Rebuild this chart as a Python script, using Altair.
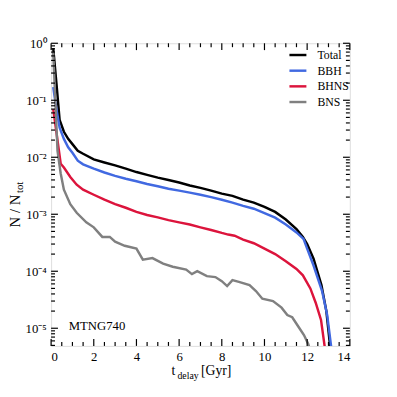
import altair as alt
import pandas as pd
import numpy as np

# ---------------- data ----------------
total_x = [0.1, 0.25, 0.4, 0.6, 0.8, 1.0, 1.25, 1.5, 2.0, 2.5, 3.0, 3.5, 4.0, 4.5, 5.0, 5.5,
           6.0, 6.5, 7.0, 7.5, 8.0, 8.5, 9.0, 9.5, 10.0, 10.5, 11.0, 11.5, 11.8, 12.0,
           12.3, 12.67, 12.9, 13.1]
total_y = [0.82, 0.2, 0.045, 0.028, 0.021, 0.017, 0.013, 0.0115, 0.0092, 0.0081, 0.0072,
           0.0063, 0.0055, 0.0049, 0.0044, 0.0040, 0.0036, 0.0032, 0.0029, 0.0026, 0.0023,
           0.0021, 0.0018, 0.0016, 0.00135, 0.0011, 0.00081, 0.00055, 0.0004, 0.0003,
           0.000166, 0.000057, 0.00002, 0.000004]

bbh_x = [0.1, 0.25, 0.4, 0.6, 0.8, 1.0, 1.25, 1.5, 2.0, 2.5, 3.0, 3.5, 4.0, 4.5, 5.0, 5.5,
         6.0, 6.5, 7.0, 7.5, 8.0, 8.5, 9.0, 9.5, 10.0, 10.5, 11.0, 11.5, 11.83, 12.0,
         12.3, 12.7, 12.94, 13.15]
bbh_y = [0.17, 0.07, 0.033, 0.021, 0.015, 0.012, 0.0087, 0.0075, 0.0063, 0.0054, 0.0047,
         0.0042, 0.0038, 0.0034, 0.0031, 0.0028, 0.0026, 0.0024, 0.0022, 0.0020, 0.0018,
         0.0016, 0.0014, 0.00125, 0.00105, 0.00087, 0.00066, 0.00048, 0.00037, 0.00025,
         0.000126, 0.000045, 0.000017, 0.000004]

bhns_x = [0.1, 0.3, 0.45, 0.6, 0.9, 1.2, 1.5, 2.0, 2.5, 3.0, 3.5, 4.0, 4.5, 5.0, 5.5, 6.0,
          6.5, 7.0, 7.5, 8.0, 8.3, 8.6, 9.0, 9.5, 10.0, 10.5, 11.0, 11.5, 11.8, 12.15,
          12.4, 12.65, 12.85]
bhns_y = [0.07, 0.02, 0.0077, 0.0066, 0.0045, 0.0033, 0.0027, 0.0022, 0.0018, 0.0015,
          0.0013, 0.0011, 0.00097, 0.00088, 0.00079, 0.00072, 0.00066, 0.00059, 0.00053,
          0.00047, 0.00044, 0.00042, 0.00036, 0.00031, 0.00025, 0.0002, 0.00015, 0.00011,
          0.000085, 0.00005, 0.000028, 0.000014, 0.000004]

bns_x = [0.1, 0.3, 0.45, 0.6, 0.9, 1.2, 1.65, 2.0, 2.4, 2.75, 3.0, 3.45, 4.0, 4.3, 4.75,
         5.25, 5.7, 6.33, 6.6, 6.85, 7.3, 7.7, 8.0, 8.25, 8.5, 8.8, 9.3, 9.6, 9.9, 10.4,
         10.8, 11.07, 11.3, 11.6, 11.85, 12.05, 12.2]
bns_y = [0.7, 0.013, 0.0052, 0.0027, 0.0015, 0.00106, 0.00072, 0.00059, 0.0004, 0.0004,
         0.00033, 0.00028, 0.00025, 0.00016, 0.00017, 0.000136, 0.00012, 0.000107, 0.000089,
         0.0001, 0.000082, 0.000079, 0.000067, 0.000055, 0.00007, 0.000065, 0.000057,
         0.000045, 0.000033, 0.00003, 0.000023, 0.000017, 0.0000156, 0.0000105, 0.0000076,
         0.0000053, 0.0000035]

series_names = ["Total", "BBH", "BHNS", "BNS"]
series_colors = ["#000000", "#4169e1", "#dc143c", "#808080"]

x_tick_values = [0, 2, 4, 6, 8, 10, 12, 14]
x_minor_values = [v / 2 for v in range(0, 29) if v % 4 != 0]
y_tick_values = [1e-5, 1e-4, 1e-3, 1e-2, 1e-1, 1.0]
y_tick_labels = ["10\u207b\u2075", "10\u207b\u2074", "10\u207b\u00b3", "10\u207b\u00b2",
                 "10\u207b\u00b9", "10\u2070"]
y_minor_values = [k * 10.0 ** e for e in range(-6, 0) for k in range(2, 10)]

Y_MIN, Y_MAX = 4.9e-6, 1.0
W, H = 305, 309
FONT = "Liberation Serif"

rows = []
for name, xs, ys in [("Total", total_x, total_y), ("BBH", bbh_x, bbh_y),
                     ("BHNS", bhns_x, bhns_y), ("BNS", bns_x, bns_y)]:
    for xv, yv in zip(xs, ys):
        rows.append({"series": name, "t": xv, "n": yv})
df = pd.DataFrame(rows)

xscale = alt.Scale(domain=[0, 14], nice=False, zero=False)
yscale = alt.Scale(type="log", domain=[Y_MIN, Y_MAX], nice=False)

label_expr = " : ".join(
    f"abs(log(datum.value)/LN10 - ({int(round(np.log10(v)))})) < 0.01 ? '{lab}'"
    for v, lab in zip(y_tick_values, y_tick_labels)
) + " : ''"

x_axis = alt.Axis(values=x_tick_values, ticks=False, domain=False, grid=False,
                  labelFont=FONT, labelFontSize=13, labelPadding=5,
                  labelColor="black", title="", format="d")
y_axis = alt.Axis(values=y_tick_values, ticks=False, domain=False, grid=False,
                  labelFont=FONT, labelFontSize=13, labelPadding=5,
                  labelColor="black", title="", labelExpr=label_expr)

lines = alt.Chart(df).mark_line(strokeWidth=2.5, clip=True).encode(
    x=alt.X("t:Q", scale=xscale, axis=x_axis),
    y=alt.Y("n:Q", scale=yscale, axis=y_axis),
    color=alt.Color("series:N",
                    scale=alt.Scale(domain=series_names, range=series_colors),
                    sort=series_names,
                    legend=alt.Legend(title=None, orient="none", legendX=242, legendY=2,
                                      symbolType="stroke", symbolSize=300,
                                      symbolStrokeWidth=2.5, labelFont=FONT,
                                      labelFontSize=12, labelOffset=10, rowPadding=0,
                                      padding=0, labelColor="black")),
    order=alt.Order("t:Q"),
    detail="series:N",
)


def tick_layer(values, length, side):
    d = pd.DataFrame({"t": values, "n": values})
    base = alt.Chart(d).mark_rule(color="black", strokeWidth=1.2)
    if side == "bottom":
        return base.encode(x=alt.X("t:Q", scale=xscale, axis=x_axis),
                           y=alt.value(H), y2=alt.value(H - length))
    if side == "top":
        return base.encode(x=alt.X("t:Q", scale=xscale, axis=x_axis),
                           y=alt.value(0), y2=alt.value(length))
    if side == "left":
        return base.encode(y=alt.Y("n:Q", scale=yscale, axis=y_axis),
                           x=alt.value(0), x2=alt.value(length))
    return base.encode(y=alt.Y("n:Q", scale=yscale, axis=y_axis),
                       x=alt.value(W), x2=alt.value(W - length))


ticks = []
for side in ["bottom", "top"]:
    ticks.append(tick_layer(x_tick_values, 7, side))
    ticks.append(tick_layer(x_minor_values, 4, side))
ymin_ok = [v for v in y_minor_values if Y_MIN <= v <= Y_MAX]
for side in ["left", "right"]:
    ticks.append(tick_layer(y_tick_values, 7, side))
    ticks.append(tick_layer(ymin_ok, 4, side))


def text_layer(txt, x, y, size, angle=0, align="left", baseline="alphabetic"):
    kw = dict(font=FONT, fontSize=size, align=align, baseline=baseline, color="black")
    if angle:
        kw["angle"] = angle
    return alt.Chart(pd.DataFrame({"label": [txt]})).mark_text(**kw).encode(
        text="label:N", x=alt.value(x), y=alt.value(y))


texts = [
    text_layer("MTNG740", 18, 293, 13),
    text_layer("t", 123, 339, 14),
    text_layer("delay", 129, 343, 10),
    text_layer("[Gyr]", 153, 339, 14),
    text_layer("N / N", -32, 188, 15, angle=270),
    text_layer("tot", -29, 153, 11, angle=270),
]

chart = alt.layer(lines, *ticks, *texts).properties(
    width=W, height=H,
    autosize=alt.AutoSizeParams(type="none"),
    padding={"left": 44, "top": 32, "right": 40, "bottom": 40},
).configure_view(stroke="black", strokeWidth=2).configure(background="white")

chart.save("out.html", embed_options={"renderer": "svg", "actions": False})
